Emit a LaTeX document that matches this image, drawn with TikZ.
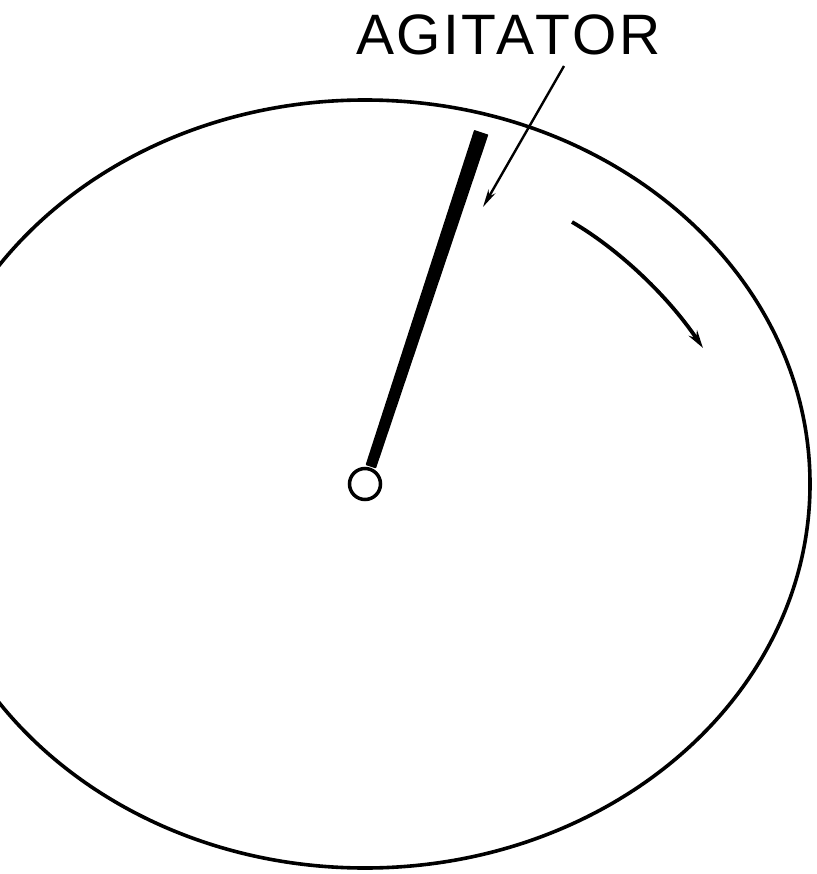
\documentclass[tikz,border=0pt]{standalone}
\usepackage{fontspec}
\setmainfont{Liberation Sans}
\usetikzlibrary{arrows.meta}
\tikzset{
  rim/.style={line width=3.6pt},
  pointer/.style={line width=2.4pt,-{Stealth[length=18pt,width=8pt]}},
  rotarrow/.style={line width=3.8pt,-{Stealth[length=18pt,width=10pt]}},
  hubring/.style={circle,draw,line width=3.5pt,minimum size=31pt,inner sep=0pt,fill=white},
  labeltext/.style={font=\fontsize{57}{60}\selectfont,inner sep=0pt,anchor=base}
}
\begin{document}
\begin{tikzpicture}[x=1pt,y=-1pt]
\useasboundingbox (0,0) rectangle (816,874);
\fill[white] (0,0) rectangle (816,874);
\begin{scope}
\clip (0,0) rectangle (816,874);
\draw[rim] (365,484) ellipse [x radius=445, y radius=384];
\end{scope}
% agitator blade
\filldraw[line width=1.5pt,line join=round] (375.5,467.5) -- (487.4,135.1) -- (474.6,130.9) -- (366.5,464.5) -- cycle;
\node[hubring] (hub) at (365,484) {};
% label
\node[labeltext] (label) at (508.5,55) {A\kern2ptG\kern2ptI\kern2ptT\kern1ptA\kern1ptT\kern2ptO\kern2ptR};
\coordinate (lstart) at (564,66);
\coordinate (ltip) at (483,207);
\draw[pointer] (lstart) -- (ltip);
% rotation arrow
\coordinate (rs) at (572,222);
\coordinate (re) at (703,348);
\draw[rotarrow] (rs) .. controls (615,247) and (665,292) .. (re);
\end{tikzpicture}
\end{document}
